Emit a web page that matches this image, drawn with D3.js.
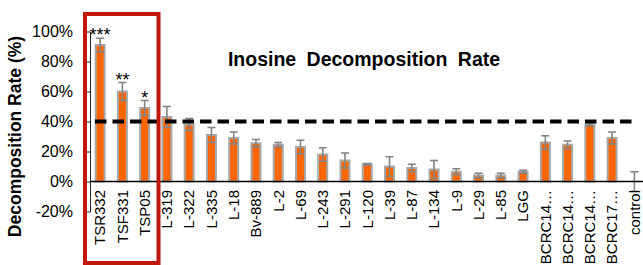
<!DOCTYPE html>
<html>
<head>
<meta charset="utf-8">
<title>Inosine Decomposition Rate</title>
<script src="https://d3js.org/d3.v7.min.js"></script>
<style>
  body { margin: 0; background: #fff; }
  text { font-family: "Liberation Sans", Arial, sans-serif; fill: #000; }
</style>
</head>
<body>
<svg width="643" height="265"></svg>
<script>
var strains = ["TSR332","TSF331","TSP05","L-319","L-322","L-335","L-18","Bv-889","L-2","L-69",
               "L-243","L-291","L-120","L-39","L-87","L-134","L-9","L-29","L-85","LGG",
               "BCRC14\u2026","BCRC14\u2026","BCRC14\u2026","BCRC17\u2026","control"];
var rates = [91,60,49,43,38,31,29,25.5,24.5,23,18,14,11.5,10,9,8,6.5,4,4,6.5,26,24.5,38,29,0];
var errors = [4.5,6,5,7,4,5,4,2.5,1.5,4.5,4.5,5,0.5,6.5,2.5,6,2,1.5,1.5,1,4.5,2.5,1,4,6.5];
var stars = ["***","**","*"];
var yTicks = [-20,0,20,40,60,80,100];
var threshold = 40;

var svg = d3.select("svg");

var x = d3.scaleBand()
  .domain(d3.range(strains.length))
  .range([89, 645.5]);
var y = d3.scaleLinear()
  .domain([-20, 100])
  .range([211.5, 31.5]);

var cx = function(i) { return x(i) + x.bandwidth() / 2; };
var barW = 9;

// title
svg.append("text")
  .attr("x", 364)
  .attr("y", 66)
  .attr("text-anchor", "middle")
  .style("font-size", "19.5px")
  .style("font-weight", "bold")
  .style("word-spacing", "5px")
  .text("Inosine Decomposition Rate");

// y axis
var yAxis = svg.append("g")
  .attr("transform", "translate(90,0)")
  .call(d3.axisLeft(y).tickValues(yTicks).tickSize(4).tickSizeOuter(0).tickPadding(13)
    .tickFormat(function(d) { return d + "%"; }));
yAxis.selectAll("path, line").attr("stroke", "#222");
yAxis.selectAll("text").style("font-size", "16px").attr("fill", "#000");

svg.append("text")
  .attr("transform", "translate(21,136.5) rotate(-90)")
  .attr("text-anchor", "middle")
  .style("font-size", "17.5px")
  .style("font-weight", "bold")
  .text("Decomposition Rate (%)");

// bars
svg.selectAll("rect.bar")
  .data(rates)
  .enter()
  .append("rect")
  .attr("class", "bar")
  .attr("x", function(d, i) { return cx(i) - barW / 2; })
  .attr("y", function(d) { return y(Math.max(d, 0)); })
  .attr("width", barW)
  .attr("height", function(d) { return Math.abs(y(d) - y(0)); })
  .attr("fill", function(d) { return d > 0 ? "#ff6600" : "none"; })
  .attr("stroke", function(d) { return d > 0 ? "#a8a8a8" : "none"; })
  .attr("stroke-width", 2);

// error bars
var eb = svg.selectAll("g.err")
  .data(rates)
  .enter()
  .append("g")
  .attr("class", "err")
  .attr("stroke", "#858585")
  .attr("stroke-width", 1.6);
eb.append("line")
  .attr("x1", function(d, i) { return cx(i); })
  .attr("x2", function(d, i) { return cx(i); })
  .attr("y1", function(d, i) { return y(d + errors[i]); })
  .attr("y2", function(d, i) { return y(d - errors[i]); });
eb.append("line")
  .attr("x1", function(d, i) { return cx(i) - 4; })
  .attr("x2", function(d, i) { return cx(i) + 4; })
  .attr("y1", function(d, i) { return y(d + errors[i]); })
  .attr("y2", function(d, i) { return y(d + errors[i]); });
eb.append("line")
  .attr("x1", function(d, i) { return cx(i) - 4; })
  .attr("x2", function(d, i) { return cx(i) + 4; })
  .attr("y1", function(d, i) { return y(d - errors[i]); })
  .attr("y2", function(d, i) { return y(d - errors[i]); });

// zero line
svg.append("line")
  .attr("x1", 90).attr("x2", 643)
  .attr("y1", y(0)).attr("y2", y(0))
  .attr("stroke", "#000")
  .attr("stroke-width", 1.5);

// threshold
svg.append("line")
  .attr("x1", 95).attr("x2", 635)
  .attr("y1", y(threshold)).attr("y2", y(threshold))
  .attr("stroke", "#000")
  .attr("stroke-width", 4)
  .attr("stroke-dasharray", "11.5,6");

// significance
svg.selectAll("text.star")
  .data(stars)
  .enter()
  .append("text")
  .attr("class", "star")
  .attr("x", function(d, i) { return cx(i); })
  .attr("y", function(d, i) { return y(rates[i] + errors[i]) + 3; })
  .attr("text-anchor", "middle")
  .style("font-size", "18px")
  .text(function(d) { return d; });

// category labels
svg.selectAll("text.cat")
  .data(strains)
  .enter()
  .append("text")
  .attr("class", "cat")
  .attr("transform", function(d, i) { return "translate(" + (cx(i) + 5.3) + ",190) rotate(-90)"; })
  .attr("text-anchor", "end")
  .style("font-size", "15px")
  .text(function(d) { return d; });

// highlight box
svg.append("rect")
  .attr("x", 85).attr("y", 14)
  .attr("width", 73.5).attr("height", 249)
  .attr("fill", "none")
  .attr("stroke", "#c1170c")
  .attr("stroke-width", 4);
</script>
</body>
</html>
